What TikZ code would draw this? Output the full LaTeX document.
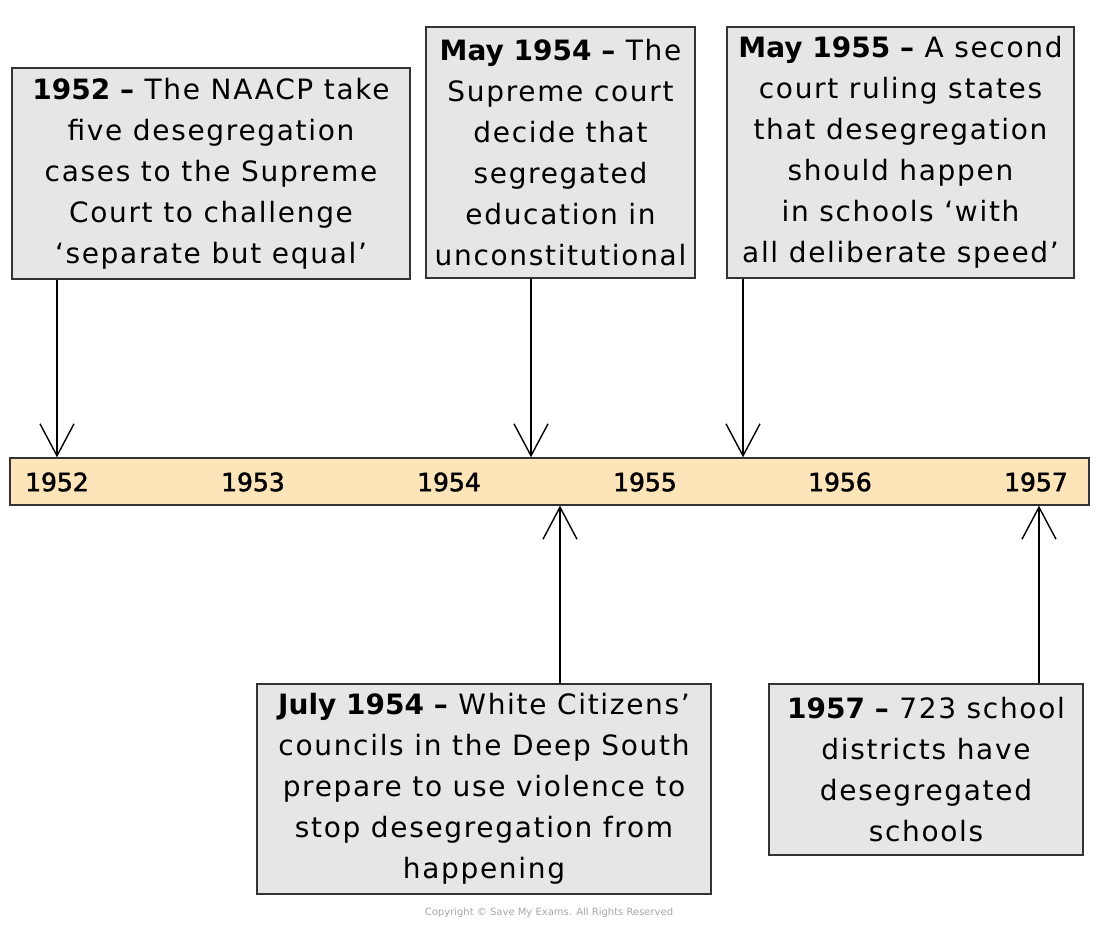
\documentclass[tikz,border=0pt]{standalone}
\usepackage{fontspec}
\setmainfont{DejaVu Sans}
\newfontfamily\yearfont[FakeBold=2]{DejaVu Sans}
\newfontfamily\eventfont[LetterSpace=6, BoldFeatures={LetterSpace=0}]{DejaVu Sans}
\usetikzlibrary{positioning, arrows.meta}
\definecolor{boxgray}{HTML}{E6E6E6}
\definecolor{barorange}{HTML}{FDE4B9}
\definecolor{edge}{HTML}{333333}

\begin{document}
\begin{tikzpicture}[x=0.5pt, y=-0.5pt,
  event/.style={rectangle, draw=edge, fill=boxgray, line width=0.7pt, inner sep=0pt, align=center, font=\eventfont\fontsize{14}{20.5}\selectfont},
  year/.style={font=\yearfont\fontsize{12.5}{14}\selectfont},
  arr/.style={line width=0.7pt, -{Straight Barb[length=16pt, width=17pt, line width=0.7pt]}}]
%

%help grid and labels
%\draw[help lines] (0,0) grid[step=100] (1100,925);

\useasboundingbox (0,0) rectangle (1100,925);

%%% TIME BAR
\node [rectangle, draw=edge, fill=barorange, line width=0.7pt, minimum width=539.5pt, minimum height=23.5pt, inner sep=0pt] (bar) at (549.5,481.5) {};
\node [year] (y1952) at (57,482) {1952};
\node [year] (y1953) at (253,482) {1953};
\node [year] (y1954) at (449,482) {1954};
\node [year] (y1955) at (645,482) {1955};
\node [year] (y1956) at (840,482) {1956};
\node [year] (y1957) at (1036,482) {1957};

%%% EVENTS ABOVE
\node [event, minimum width=199pt, minimum height=105.5pt] (naacp) at (211,173.5) {\textbf{1952 –} The NAACP take\\ five desegregation\\ cases to the Supreme\\ Court to challenge\\ ‘separate but equal’};
\node [event, minimum width=134.5pt, minimum height=125.5pt] (brown) at (560.5,152.5) {\textbf{May 1954 –} The\\ Supreme court\\ decide that\\ segregated\\ education in\\ unconstitutional};
\node [event, minimum width=173.5pt, minimum height=125.5pt] (speed) at (900.5,152.5) {\textbf{May 1955 –} A second\\ court ruling states\\ that desegregation\\ should happen\\ in schools ‘with\\ all deliberate speed’};

%%% EVENTS BELOW
\node [event, minimum width=227pt, minimum height=105pt] (councils) at (484,789) {\textbf{July 1954 –} White Citizens’\\ councils in the Deep South\\ prepare to use violence to\\ stop desegregation from\\ happening};
\node [event, minimum width=157pt, minimum height=85.5pt] (districts) at (926,769.5) {\textbf{1957 –} 723 school\\ districts have\\ desegregated\\ schools};

%%% copyright
\node [text=gray!70, font=\fontsize{5}{6}\selectfont] (copy) at (549,913) {Copyright © Save My Exams. All Rights Reserved};

%%% connections, arrows
\coordinate (a2) at (531,0);
\coordinate (a3) at (743,0);
\coordinate (a4) at (560,0);
\coordinate (a5) at (1039,0);

\draw [arr] (naacp.south -| y1952) -- (bar.north -| y1952);
\draw [arr] (brown.south -| a2) -- (bar.north -| a2);
\draw [arr] (speed.south -| a3) -- (bar.north -| a3);
\draw [arr] (councils.north -| a4) -- (bar.south -| a4);
\draw [arr] (districts.north -| a5) -- (bar.south -| a5);

\end{tikzpicture}
\end{document}
